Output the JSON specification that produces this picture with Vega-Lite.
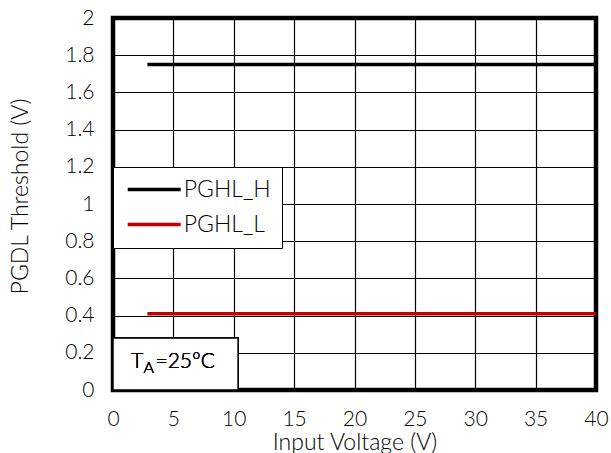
{
  "$schema": "https://vega.github.io/schema/vega-lite/v6.json",
  "width": 483,
  "height": 372,
  "autosize": "none",
  "padding": {"left": 113, "top": 18, "right": 15, "bottom": 63},
  "config": {
    "font": "Lato",
    "view": {"stroke": "black", "strokeWidth": 4.5},
    "axis": {
      "labelFont": "Lato",
      "titleFont": "Lato",
      "labelFontSize": 21,
      "titleFontSize": 23,
      "labelFontWeight": 300,
      "labelColor": "black",
      "titleColor": "black",
      "titleFontWeight": 300,
      "gridColor": "black",
      "gridOpacity": 1,
      "gridWidth": 1.2,
      "ticks": false,
      "domain": false,
      "labelOverlap": false,
      "labelFlush": false
    },
    "axisY": {"labelOverlap": false, "tickCount": 12},
    "axisX": {"tickCount": 10}
  },
  "data": {
    "values": [
      {"v": 2.85, "t": 1.75, "s": "PGHL_H"},
      {"v": 40, "t": 1.75, "s": "PGHL_H"},
      {"v": 2.85, "t": 0.41, "s": "PGHL_L"},
      {"v": 40, "t": 0.41, "s": "PGHL_L"}
    ]
  },
  "layer": [
    {
      "mark": {"type": "line", "strokeWidth": 3.5, "clip": true},
      "encoding": {
        "x": {"field": "v", "type": "quantitative", "scale": {"domain": [0, 40], "nice": false, "zero": false},
              "axis": {"values": [0,5,10,15,20,25,30,35,40], "tickCount": 10, "title": "Input Voltage (V)", "labelPadding": 18, "labelOverlap": false,
                       "titleBaseline": "alphabetic", "titleY": 59}},
        "y": {"field": "t", "type": "quantitative", "scale": {"domain": [0, 2], "nice": false},
              "axis": {"values": [0,0.2,0.4,0.6,0.8,1,1.2,1.4,1.6,1.8,2], "tickCount": 12, "format": "~g", "title": "PGDL Threshold (V)", "labelPadding": 19, "labelOverlap": false,
                       "titleBaseline": "alphabetic", "titleX": -86, "titleY": 178, "titleAngle": -90, "titleAlign": "center"}},
        "color": {"field": "s", "type": "nominal",
          "scale": {"domain": ["PGHL_H", "PGHL_L"], "range": ["#000000", "#C00000"]},
          "legend": {
            "title": null, "orient": "none", "legendX": 0, "legendY": 149,
            "fillColor": "white", "strokeColor": "black", "padding": 11,
            "symbolType": "M-3,0H3", "symbolSize": 312, "symbolStrokeWidth": 3.5, "symbolOffset": 18.7,
            "labelFontSize": 23, "labelFont": "Lato", "labelFontWeight": 300, "labelColor": "black", "labelOffset": 18,
            "rowPadding": 11
          }}
      }
    },
    {
      "mark": {"type": "rect", "fill": "white", "stroke": "black", "strokeWidth": 1.5},
      "encoding": {"x": {"datum": 0}, "x2": {"datum": 10.36}, "y": {"datum": 0}, "y2": {"datum": 0.28}}
    },
    {
      "mark": {"type": "text", "align": "left", "baseline": "alphabetic", "fontSize": 21, "fontWeight": 300, "font": "Lato", "color": "black", "text": "T"},
      "encoding": {"x": {"datum": 1.5}, "y": {"datum": 0.118}}
    },
    {
      "mark": {"type": "text", "align": "left", "baseline": "alphabetic", "fontSize": 16, "fontWeight": 300, "font": "Lato", "color": "black", "text": "A"},
      "encoding": {"x": {"datum": 2.52}, "y": {"datum": 0.09}}
    },
    {
      "mark": {"type": "text", "align": "left", "baseline": "alphabetic", "fontSize": 21, "fontWeight": 300, "font": "Lato", "color": "black", "text": "=25°C"},
      "encoding": {"x": {"datum": 3.52}, "y": {"datum": 0.118}}
    }
  ]
}
